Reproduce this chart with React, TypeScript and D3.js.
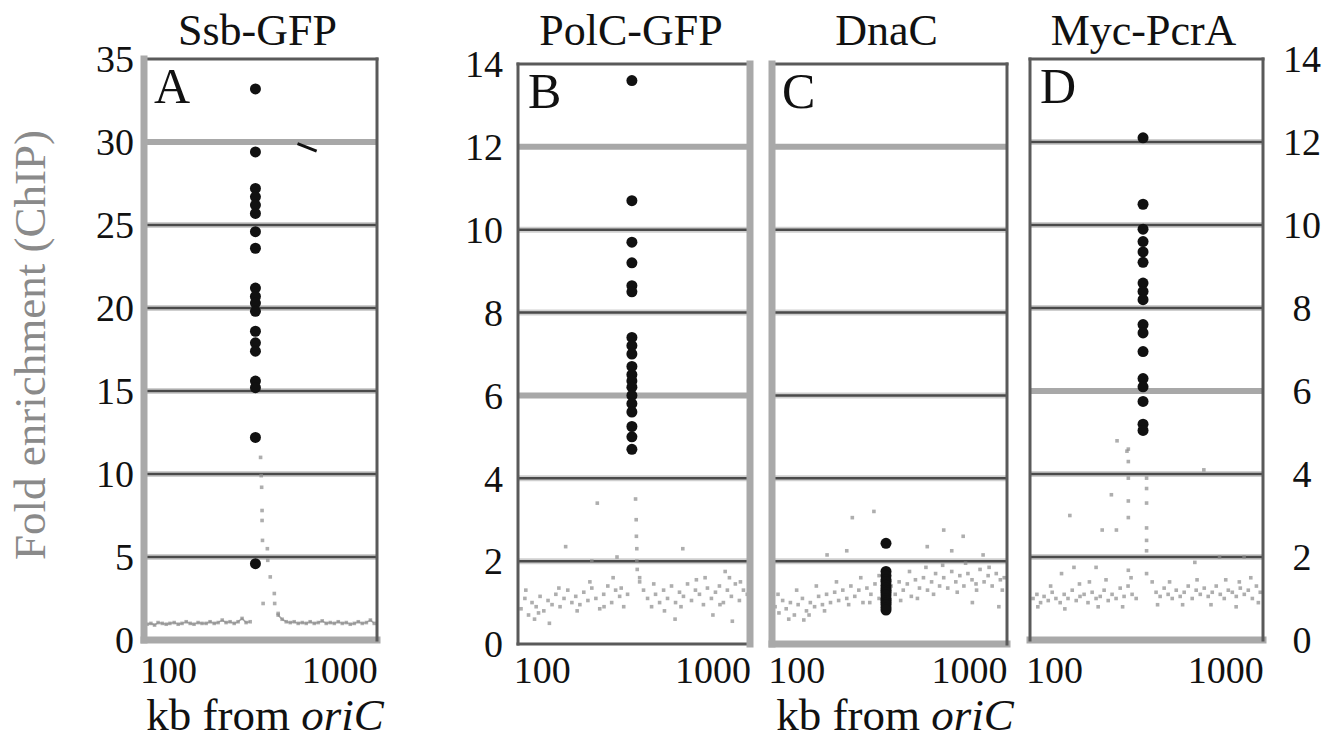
import * as d3 from 'd3';
import React, { useRef, useEffect } from 'react';

const W = 1334;
const H = 745;

// titles and panel letters
const panelTitles = ['Ssb-GFP', 'PolC-GFP', 'DnaC', 'Myc-PcrA'];
const panelLetters = ['A', 'B', 'C', 'D'];

// tick labels
const yTicksA = [0, 5, 10, 15, 20, 25, 30, 35];
const yTicksBCD = [0, 2, 4, 6, 8, 10, 12, 14];
const xTicks = [100, 1000];

// genome positions (kb) of the gray profile points
const gridKb = [75, 79, 83, 87, 92, 97, 102, 108, 114, 120, 127, 134, 141, 149, 157, 166, 175, 185, 195, 206,
  217, 229, 242, 255, 269, 284, 300, 316, 334, 352, 372, 392, 414, 437, 461, 487, 514, 542, 572, 604,
  637, 672, 710, 749, 790, 834, 880, 929, 980, 1035, 1092, 1152, 1216, 1283, 1354, 1430, 1510, 1590];

// gray profile, one value per gridKb (null = no point)
const baseA = [0.95, 1.0, 0.9, 1.05, 1.0, 0.95, 1.0, 1.05, 0.95, 1.0, 1.1, 1.0, 0.95, 1.05, 1.0, 1.0, 1.1, 1.0, 1.05, 1.2,
  1.05, 1.1, 1.0, 1.1, 1.3, 1.05, 1.1, null, null, null, null, null, null, 1.5, 1.25, 1.1, 1.05, 1.1, 1.0, 1.05,
  1.0, 1.1, 1.0, 1.05, 1.15, 1.0, 1.05, 1.0, 1.1, 1.0, 1.05, 0.95, 1.0, 1.1, 1.0, 1.05, 1.2, 1.0];
const baseB = [0.85, 1.1, 0.7, 1.0, 0.9, 1.15, 0.8, 1.05, 0.95, 1.2, 0.9, 1.1, 1.3, 1.0, 1.15, 0.95, 1.25, 1.05, 1.35, 1.1,
  0.85, 1.2, 1.4, 1.0, 1.3, 1.15, 0.9, 1.2, null, null, 1.5, 1.3, 1.1, 0.9, 1.2, 1.0, 1.3, 1.1, 1.4, 1.0,
  1.25, 1.15, 1.45, 1.05, 1.3, 1.2, 0.95, 1.35, 1.1, 1.25, 1.4, 1.0, 1.3, 1.15, 1.45, 1.05, 1.3, 1.2];
const baseC = [0.9, 0.75, 1.05, 0.85, 1.0, 0.7, 0.95, 1.1, 0.8, 1.0, 0.9, 1.15, 0.95, 1.2, 1.0, 1.25, 1.05, 1.3, 1.1, 1.4,
  1.15, 1.3, 1.0, 1.35, 1.2, 1.45, 1.1, 1.3, 1.25, 1.4, 1.2, 1.5, 1.3, 1.45, 1.15, 1.55, 1.35, 1.6, 1.3, 1.5,
  1.7, 1.4, 1.6, 1.35, 1.75, 1.5, 1.65, 1.4, 1.7, 1.55, 1.45, 1.8, 1.5, 1.65, 1.4, 1.7, 1.55, 1.6];
const baseD = [1.0, 1.1, 0.9, 1.05, 0.95, 1.15, 1.0, 0.9, 1.1, 1.0, 1.2, 0.95, 1.05, 1.1, 0.9, 1.15, 1.0, 1.05, 1.2, 0.95,
  1.1, 1.0, 1.25, 1.05, 1.3, 1.1, 1.0, null, null, null, 1.4, 1.15, 1.05, 1.25, 1.1, 1.0, 1.2, 1.05, 1.15, 1.3,
  1.0, 1.2, 1.1, 1.25, 1.05, 1.15, 1.3, 1.1, 1.0, 1.2, 1.15, 1.05, 1.25, 1.1, 1.2, 1.0, 1.3, 1.15];

// extra gray points (kb, fold enrichment)
const extraKbA = [345, 348, 350, 352, 352, 354, 357, 378, 380, 393, 415, 417, 437];
const extraValA = [11.0, 9.9, 9.2, 7.8, 7.2, 6.0, 2.2, 5.5, 4.8, 3.8, 2.8, 2.2, 1.6];
const extraKbB = [352, 355, 356, 358, 358, 360, 372, 137, 210, 274, 666, 1180, 195, 90, 110, 600, 1300, 1000,
  80, 95, 125, 160, 190, 230, 260, 290, 450, 520, 650, 800, 900, 1100, 1250, 1450];
const extraValB = [3.5, 3.0, 2.6, 2.3, 2.0, 1.8, 1.6, 2.35, 3.4, 2.1, 2.3, 1.75, 2.0, 0.6, 0.5, 0.6, 0.55, 0.7,
  1.3, 0.75, 1.35, 0.8, 1.5, 0.9, 1.6, 1.35, 1.45, 0.8, 0.9, 1.55, 1.6, 0.95, 1.6, 1.5];
const extraKbC = [210, 280, 710, 920, 570, 195, 150, 1200, 790, 110, 1480, 1040,
  78, 90, 100, 118, 130, 145, 170, 200, 235, 265, 300, 400, 450, 500, 560, 620, 700, 850, 950, 1100, 1300, 1550];
const extraValC = [3.05, 3.2, 2.75, 2.6, 2.35, 2.25, 2.15, 2.15, 2.25, 0.58, 0.9, 1.0,
  1.2, 0.6, 1.3, 0.7, 1.4, 0.8, 1.5, 0.95, 1.6, 1.0, 1.65, 1.05, 1.75, 1.1, 1.85, 1.2, 1.9, 1.25, 1.95, 1.3, 1.85, 1.3];
const extraKbD = [270, 270, 270, 270, 270, 270, 345, 345, 345, 345, 345, 345, 345, 215, 123, 190, 230, 130, 175,
  660, 920, 1280, 110, 1200, 232, 265, 745,
  80, 95, 115, 140, 160, 180, 200, 250, 280, 400, 470, 560, 680, 820, 1000, 1150, 1400, 1550];
const extraValD = [4.6, 4.3, 3.9, 3.35, 2.95, 1.68, 3.9, 3.65, 3.3, 2.7, 2.4, 2.15, 1.6, 3.5, 3.0, 2.65, 2.65, 1.75, 1.75,
  1.87, 2.0, 2.0, 1.6, 1.4, 4.8, 4.55, 4.1,
  0.8, 1.3, 0.75, 1.35, 1.4, 0.8, 1.45, 0.8, 1.5, 0.85, 1.4, 0.85, 1.45, 0.85, 1.45, 0.8, 1.5, 0.9];

// black ChIP points at the origin-proximal locus
const chipKb = [322, 335, 329, 329];
const chipA = [33.2, 29.4, 27.2, 26.7, 26.2, 25.7, 24.6, 23.6, 21.2, 20.7, 20.3, 19.8, 18.6, 17.9, 17.4, 15.6, 15.2, 12.2, 4.6];
const chipB = [13.6, 10.7, 9.7, 9.2, 8.65, 8.5, 7.4, 7.2, 7.0, 6.7, 6.5, 6.35, 6.2, 6.0, 5.8, 5.6, 5.25, 5.0, 4.7];
const chipC = [2.43, 1.75, 1.65, 1.55, 1.5, 1.42, 1.35, 1.3, 1.25, 1.18, 1.1, 1.05, 1.0, 0.95, 0.88, 0.82];
const chipD = [12.1, 10.5, 9.9, 9.6, 9.35, 9.1, 8.6, 8.4, 8.2, 7.6, 7.4, 6.95, 6.3, 6.1, 5.75, 5.2, 5.05];

// small stray stroke in panel A
const strokeKbA = [567, 733];
const strokeValA = [29.9, 29.45];

const panels = [
  { x0: 144, x1: 377, top: 59, bottom: 640, yMax: 35, ticks: yTicksA, side: 'left', base: baseA, exKb: extraKbA, exVal: extraValA, chip: chipA,
    lightEdges: ['left', 'bottom'], lightGrid: [30] },
  { x0: 518, x1: 750, top: 64, bottom: 644, yMax: 14, ticks: yTicksBCD, side: 'left', base: baseB, exKb: extraKbB, exVal: extraValB, chip: chipB,
    lightEdges: ['right'], lightGrid: [12, 6] },
  { x0: 772, x1: 1007, top: 64, bottom: 644, yMax: 14, ticks: yTicksBCD, side: 'none', base: baseC, exKb: extraKbC, exVal: extraValC, chip: chipC,
    lightEdges: ['left', 'bottom'], lightGrid: [12] },
  { x0: 1030, x1: 1263, top: 59, bottom: 640, yMax: 14, ticks: yTicksBCD, side: 'right', base: baseD, exKb: extraKbD, exVal: extraValD, chip: chipD,
    lightEdges: ['bottom'], lightGrid: [6] },
];

const FONT = 'Liberation Serif';

function App() {
  const ref = useRef<SVGSVGElement>(null);

  useEffect(() => {
    const svg = d3.select(ref.current);
    svg.selectAll('*').remove();
    svg.append('rect').attr('width', W).attr('height', H).attr('fill', 'white');

    panels.forEach((p, i) => {
      const g = svg.append('g');
      const x = d3.scaleLog().domain([72, 1650]).range([p.x0, p.x1]);
      const y = d3.scaleLinear().domain([0, p.yMax]).range([p.bottom, p.top]);

      // gridlines
      p.ticks.filter(t => t > 0 && t < p.yMax).forEach(t => {
        const light = p.lightGrid.includes(t);
        g.append('line')
          .attr('x1', p.x0).attr('x2', p.x1).attr('y1', y(t)).attr('y2', y(t))
          .attr('stroke', light ? '#a8a8a8' : '#cfcfcf').attr('stroke-width', 6);
        if (!light) {
          g.append('line')
            .attr('x1', p.x0).attr('x2', p.x1).attr('y1', y(t)).attr('y2', y(t))
            .attr('stroke', '#4a4a4a').attr('stroke-width', 2.5);
        }
      });

      // gray profile
      const pts = gridKb.map((kb, j) => ({ kb, v: p.base[j] }));
      if (i === 0) {
        const line = d3.line<{ kb: number; v: number | null }>()
          .defined(d => d.v != null)
          .x(d => x(d.kb)).y(d => y(d.v as number));
        g.append('path').datum(pts)
          .attr('d', line)
          .attr('fill', 'none')
          .attr('stroke', '#b0b0b0')
          .attr('stroke-width', 1.6);
      }
      const extras = p.exKb.map((kb, j) => ({ kb, v: p.exVal[j] }));
      g.append('g').attr('fill', '#8c8c8c').attr('fill-opacity', 0.7)
        .selectAll('rect')
        .data([...pts.filter(d => d.v != null), ...extras])
        .join('rect')
        .attr('x', d => x(d.kb) - 1.8)
        .attr('y', d => y(d.v as number) - 1.8)
        .attr('width', 3.6)
        .attr('height', 3.6);

      // black ChIP points
      g.append('g').attr('fill', '#111')
        .selectAll('circle')
        .data(p.chip)
        .join('circle')
        .attr('cx', x(chipKb[i]))
        .attr('cy', d => y(d))
        .attr('r', 5.5);

      if (i === 0) {
        g.append('line')
          .attr('x1', x(strokeKbA[0])).attr('y1', y(strokeValA[0]))
          .attr('x2', x(strokeKbA[1])).attr('y2', y(strokeValA[1]))
          .attr('stroke', '#111').attr('stroke-width', 3);
      }

      // frame
      const edges: Record<string, [number, number, number, number]> = {
        top: [p.x0, p.top, p.x1, p.top],
        bottom: [p.x0, p.bottom, p.x1, p.bottom],
        left: [p.x0, p.top, p.x0, p.bottom],
        right: [p.x1, p.top, p.x1, p.bottom],
      };
      Object.entries(edges).forEach(([k, [a, b, c, d]]) => {
        const light = p.lightEdges.includes(k);
        g.append('line')
          .attr('x1', a).attr('y1', b).attr('x2', c).attr('y2', d)
          .attr('stroke', light ? '#a9a9a9' : '#5a5a5a')
          .attr('stroke-width', light ? 7 : 3)
          .attr('stroke-linecap', 'square');
      });

      // panel letter and title
      g.append('text')
        .attr('x', p.x0 + 10).attr('y', p.top + 44)
        .attr('font-family', FONT).attr('font-size', 50).attr('fill', '#111')
        .text(panelLetters[i]);
      g.append('text')
        .attr('x', (p.x0 + p.x1) / 2 - 3).attr('y', 45)
        .attr('text-anchor', 'middle')
        .attr('font-family', FONT).attr('font-size', 44).attr('fill', '#111')
        .text(panelTitles[i]);

      // y tick labels
      if (p.side !== 'none') {
        g.append('g')
          .selectAll('text')
          .data(p.ticks)
          .join('text')
          .attr('x', p.side === 'left' ? p.x0 - (i === 0 ? 10 : 15) : p.x1 + 39)
          .attr('y', d => y(d))
          .attr('dy', '0.35em')
          .attr('text-anchor', p.side === 'left' ? 'end' : 'middle')
          .attr('font-family', FONT).attr('font-size', 38).attr('fill', '#111')
          .text(d => d);
      }

      // x tick labels
      g.append('g')
        .selectAll('text')
        .data(xTicks)
        .join('text')
        .attr('x', d => x(d))
        .attr('y', 683)
        .attr('text-anchor', 'middle')
        .attr('font-family', FONT).attr('font-size', 38).attr('fill', '#111')
        .text(d => d);
    });

    // axis titles
    const xLabel = (cx: number) => {
      const t = svg.append('text')
        .attr('x', cx).attr('y', 730)
        .attr('text-anchor', 'middle')
        .attr('font-family', FONT).attr('font-size', 45).attr('fill', '#111');
      t.append('tspan').text('kb from ');
      t.append('tspan').attr('font-style', 'italic').text('oriC');
    };
    xLabel(265);
    xLabel(895);

    svg.append('text')
      .attr('transform', 'translate(45,345) rotate(-90)')
      .attr('text-anchor', 'middle')
      .attr('font-family', FONT).attr('font-size', 45).attr('fill', '#8a8a8a')
      .text('Fold enrichment (ChIP)');
  }, []);

  return (
    <svg ref={ref} width={W} height={H} style={{ position: 'absolute', left: 0, top: 0 }} />
  );
}

export default App;
